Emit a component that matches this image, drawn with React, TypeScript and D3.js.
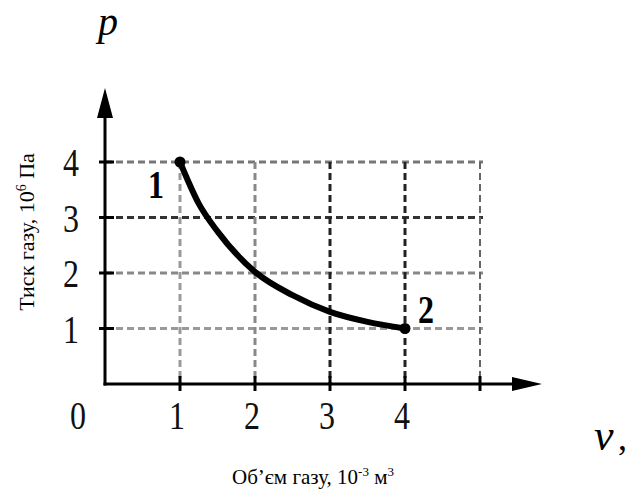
import React from "react";
import * as d3 from "d3";

const xTicks = [1, 2, 3, 4, 5];
const xTickLabels = ["1", "2", "3", "4", ""];
const yTicks = [1, 2, 3, 4];
const yTickLabels = ["1", "2", "3", "4"];
const curveV = [1, 1.25, 1.5, 2, 2.5, 3, 3.5, 4];
const curveP = [4, 3.25, 2.75, 2.02, 1.6, 1.3, 1.12, 1];
const pointLabels = [
  { v: 1, p: 4, label: "1" },
  { v: 4, p: 1, label: "2" },
];
const vGridColors = ["#9a9a9a", "#888", "#222", "#222", "#666"];
const hGridColors = ["#999", "#888", "#333", "#777"];

export default function App() {
  const W = 627, H = 497;
  const x = d3.scaleLinear().domain([0, 5]).range([105, 480]);
  const y = d3.scaleLinear().domain([0, 4]).range([384, 162]);
  const pts: [number, number][] = curveV.map((v, i) => [v, curveP[i]]);
  const line = d3
    .line<[number, number]>()
    .x((d) => x(d[0]))
    .y((d) => y(d[1]))
    .curve(d3.curveMonotoneX);
  const serif = "'Liberation Serif', 'DejaVu Serif', serif";
  const x0 = x(0), y0 = y(0);
  return (
    <svg
      width={W}
      height={H}
      style={{ position: "absolute", left: 0, top: 0, background: "#fff" }}
      fontFamily={serif}
    >
      {/* grid */}
      {yTicks.map((t, i) => (
        <line
          key={"h" + t}
          x1={x0}
          x2={x(5) + 3}
          y1={y(t)}
          y2={y(t)}
          stroke={hGridColors[i]}
          strokeWidth={3}
          strokeDasharray="7 4"
        />
      ))}
      {xTicks.map((t, i) => (
        <line
          key={"v" + t}
          x1={x(t)}
          x2={x(t)}
          y1={y(4)}
          y2={y0}
          stroke={vGridColors[i]}
          strokeWidth={t === 5 ? 2 : 3}
          strokeDasharray="7 4"
        />
      ))}
      {/* axes */}
      <line x1={x0} x2={x0} y1={y0 + 1.5} y2={115} stroke="#000" strokeWidth={3} />
      <line x1={x0 - 1.5} x2={514} y1={y0} y2={y0} stroke="#000" strokeWidth={3} />
      <polygon points={`${x0},88 ${x0 - 8},118 ${x0 + 8},118`} fill="#000" />
      <polygon points={`542,${y0} 512,${y0 - 7} 512,${y0 + 7}`} fill="#000" />
      {/* ticks */}
      {yTicks.map((t) => (
        <line key={"yt" + t} x1={x0 - 6} x2={x0 + 9} y1={y(t)} y2={y(t)} stroke="#000" strokeWidth={3} />
      ))}
      {xTicks.map((t) => (
        <line key={"xt" + t} x1={x(t)} x2={x(t)} y1={y0 - 8} y2={y0 + 7} stroke="#000" strokeWidth={3} />
      ))}
      {/* tick labels */}
      {yTicks.map((t, i) => (
        <text
          key={"yl" + t}
          transform={`translate(71,${y(t) + 14}) scale(0.8,1)`}
          fontSize={40}
          textAnchor="middle"
          fill="#111"
        >
          {yTickLabels[i]}
        </text>
      ))}
      <text transform={`translate(78,${y0 + 45}) scale(0.8,1)`} fontSize={40} textAnchor="middle" fill="#111">
        0
      </text>
      {xTicks.map((t, i) => (
        <text
          key={"xl" + t}
          transform={`translate(${x(t) - 3},${y0 + 45}) scale(0.8,1)`}
          fontSize={40}
          textAnchor="middle"
          fill="#111"
        >
          {xTickLabels[i]}
        </text>
      ))}
      {/* curve */}
      <path d={line(pts) || ""} fill="none" stroke="#000" strokeWidth={6} strokeLinecap="round" />
      {pointLabels.map((p) => (
        <circle key={"c" + p.label} cx={x(p.v)} cy={y(p.p)} r={5.5} fill="#000" />
      ))}
      <text transform={`translate(156,198) scale(0.8,1)`} fontSize={40} fontWeight="bold" textAnchor="middle">
        {pointLabels[0].label}
      </text>
      <text transform={`translate(426,323) scale(0.8,1)`} fontSize={40} fontWeight="bold" textAnchor="middle">
        {pointLabels[1].label}
      </text>
      {/* letters */}
      <text x={108} y={35} fontSize={40} fontStyle="italic" textAnchor="middle">
        p
      </text>
      <text x={594} y={450} fontSize={44} fontStyle="italic">
        v
      </text>
      <text x={618} y={450} fontSize={36}>
        ,
      </text>
      {/* axis titles */}
      <text x={313} y={484} fontSize={21} textAnchor="middle">
        Об’єм газу, 10
        <tspan dy={-8} fontSize={13}>-3</tspan>
        <tspan dy={8}> м</tspan>
        <tspan dy={-8} fontSize={13}>3</tspan>
      </text>
      <text transform="translate(34,232) rotate(-90)" fontSize={22} textAnchor="middle">
        Тиск газу, 10
        <tspan dy={-8} fontSize={14}>6</tspan>
        <tspan dy={8}> Па</tspan>
      </text>
    </svg>
  );
}
